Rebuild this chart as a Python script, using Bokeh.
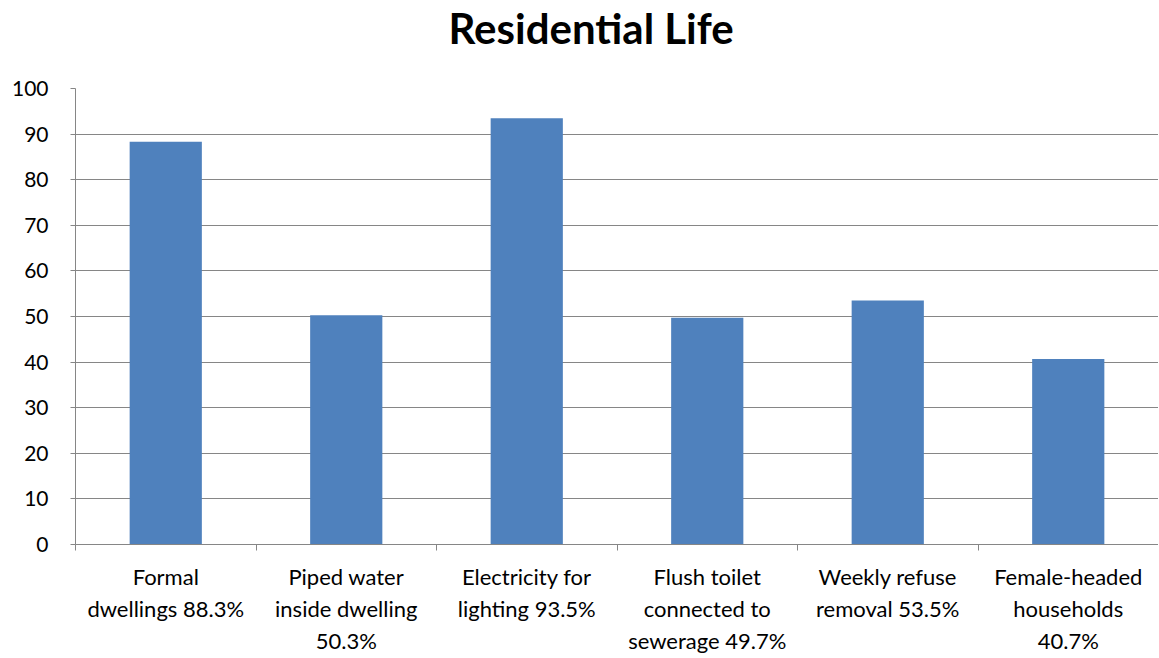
from bokeh.plotting import figure
from bokeh.models import Range1d, FixedTicker, ColumnDataSource, Title
from bokeh.embed import file_html
from bokeh.resources import INLINE

title_text = "Residential Life"
categories = [
    "Formal\ndwellings 88.3%",
    "Piped water\ninside dwelling\n50.3%",
    "Electricity for\nlighting 93.5%",
    "Flush toilet\nconnected to\nsewerage 49.7%",
    "Weekly refuse\nremoval 53.5%",
    "Female-headed\nhouseholds\n40.7%",
]
values = [88.3, 50.3, 93.5, 49.7, 53.5, 40.7]
y_ticks = [0, 10, 20, 30, 40, 50, 60, 70, 80, 90, 100]

FONT = "Lato"
GREY = "#868686"

centers = [i + 0.5 for i in range(len(categories))]
source = ColumnDataSource(dict(x=centers, top=values))

p = figure(width=1158, height=658, output_backend="svg", toolbar_location=None,
           x_range=Range1d(0, len(categories)), y_range=Range1d(0, 100),
           min_border_left=75, min_border_right=0, min_border_top=88, min_border_bottom=114)

# spacer between title and plot frame
p.add_layout(Title(text=" ", text_font_size="10px", standoff=23), "above")

p.title.text = title_text
p.title.align = "left"
p.title.offset = 373
p.title.text_font = FONT
p.title.text_font_style = "bold"
p.title.text_font_size = "42px"
p.title.text_color = "black"
p.title.standoff = 0

p.vbar(x="x", top="top", width=0.4, bottom=0, source=source,
       fill_color="#4F81BD", line_color=None)

p.outline_line_color = None
p.xgrid.grid_line_color = None
p.ygrid.grid_line_color = GREY
p.ygrid.grid_line_width = 1
p.ygrid.ticker = FixedTicker(ticks=y_ticks)

# y axis
p.yaxis.ticker = FixedTicker(ticks=y_ticks)
p.yaxis.axis_line_color = GREY
p.yaxis.major_tick_line_color = GREY
p.yaxis.major_tick_out = 5
p.yaxis.major_tick_in = 0
p.yaxis.minor_tick_line_color = None
p.yaxis.major_label_text_font = FONT
p.yaxis.major_label_text_font_size = "21px"
p.yaxis.major_label_text_color = "black"
p.yaxis.major_label_standoff = 22

# x axis
p.xaxis.ticker = FixedTicker(ticks=centers, minor_ticks=list(range(len(categories) + 1)))
p.xaxis.major_label_overrides = {c: lab for c, lab in zip(centers, categories)}
p.xaxis.axis_line_color = GREY
p.xaxis.major_tick_line_color = None
p.xaxis.major_tick_out = 0
p.xaxis.major_tick_in = 0
p.xaxis.minor_tick_line_color = GREY
p.xaxis.minor_tick_out = 6
p.xaxis.minor_tick_in = 0
p.xaxis.major_label_text_font = FONT
p.xaxis.major_label_text_font_size = "22px"
p.xaxis.major_label_text_color = "black"
p.xaxis.major_label_standoff = 12

open("out.html", "w").write(file_html(p, INLINE))
